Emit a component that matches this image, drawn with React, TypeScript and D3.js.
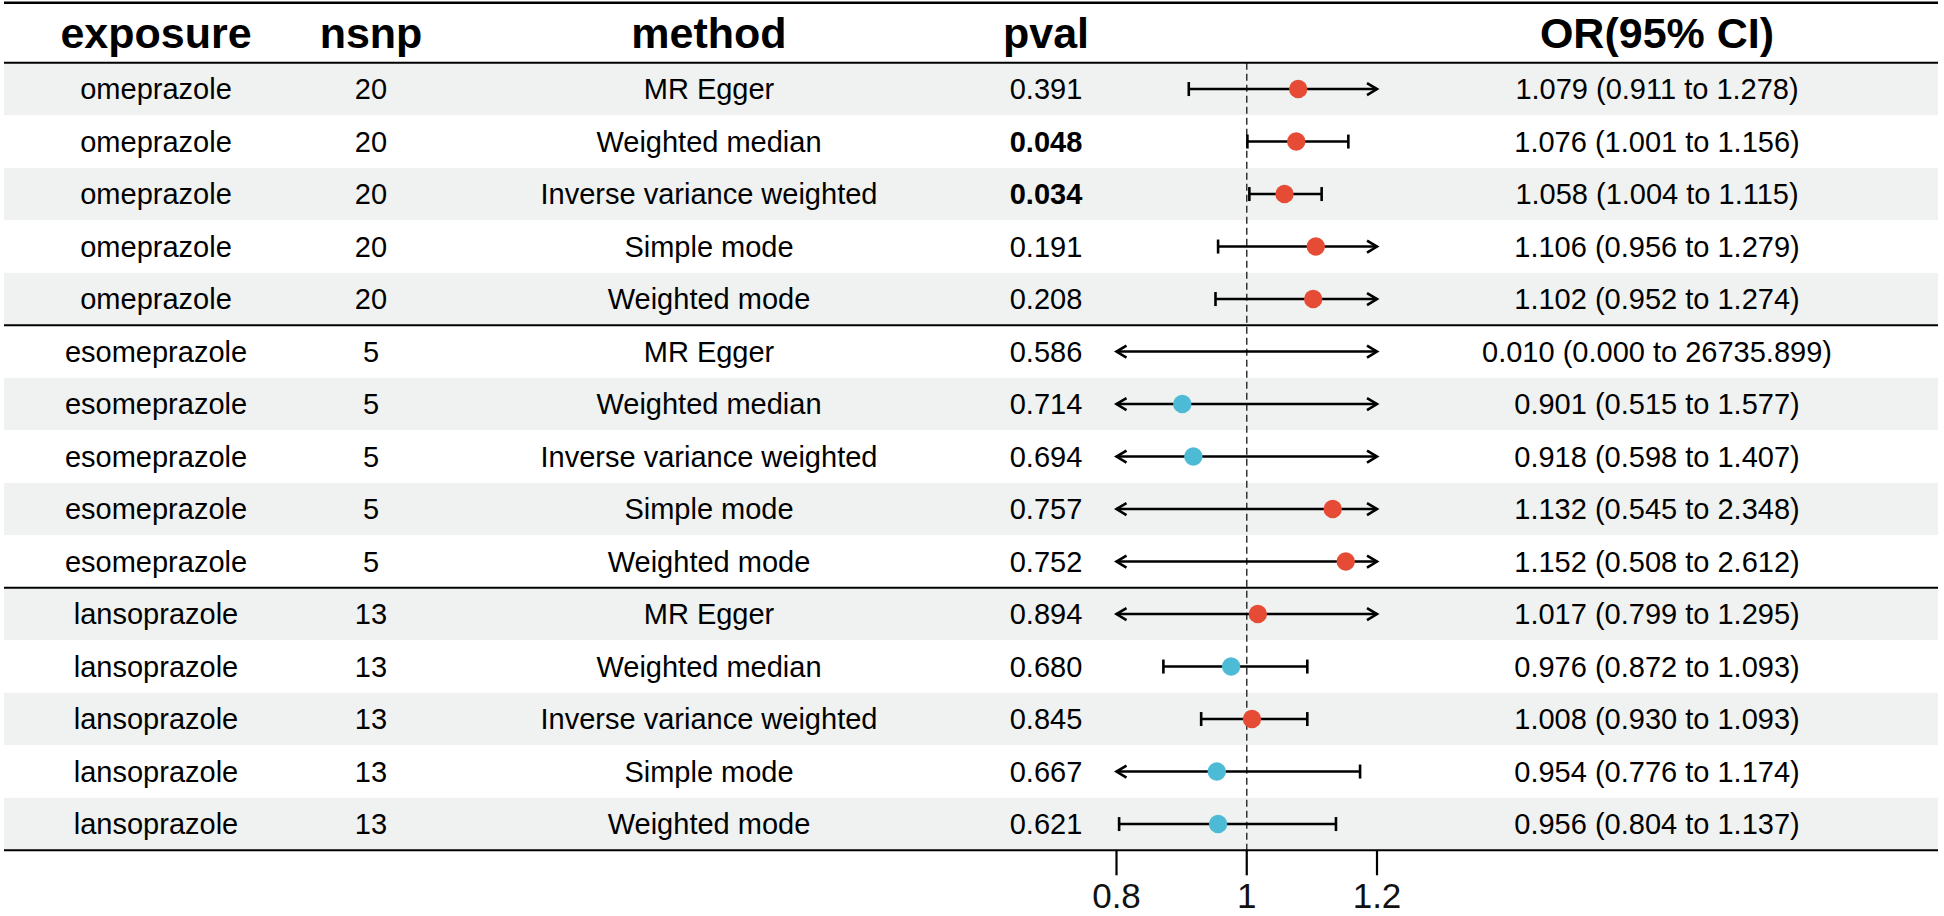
import React from "react";
import * as d3 from "d3";

const headers = ["exposure", "nsnp", "method", "pval", "", "OR(95% CI)"];
const exposures = [
  "omeprazole", "omeprazole", "omeprazole", "omeprazole", "omeprazole",
  "esomeprazole", "esomeprazole", "esomeprazole", "esomeprazole", "esomeprazole",
  "lansoprazole", "lansoprazole", "lansoprazole", "lansoprazole", "lansoprazole",
];
const nsnps = [20, 20, 20, 20, 20, 5, 5, 5, 5, 5, 13, 13, 13, 13, 13];
const methods = [
  "MR Egger", "Weighted median", "Inverse variance weighted", "Simple mode", "Weighted mode",
  "MR Egger", "Weighted median", "Inverse variance weighted", "Simple mode", "Weighted mode",
  "MR Egger", "Weighted median", "Inverse variance weighted", "Simple mode", "Weighted mode",
];
const pvals = [
  "0.391", "0.048", "0.034", "0.191", "0.208",
  "0.586", "0.714", "0.694", "0.757", "0.752",
  "0.894", "0.680", "0.845", "0.667", "0.621",
];
const pBold = [false, true, true, false, false, false, false, false, false, false, false, false, false, false, false];
const ors = [1.079, 1.076, 1.058, 1.106, 1.102, 0.010, 0.901, 0.918, 1.132, 1.152, 1.017, 0.976, 1.008, 0.954, 0.956];
const lowers = [0.911, 1.001, 1.004, 0.956, 0.952, 0.000, 0.515, 0.598, 0.545, 0.508, 0.799, 0.872, 0.930, 0.776, 0.804];
const uppers = [1.278, 1.156, 1.115, 1.279, 1.274, 26735.899, 1.577, 1.407, 2.348, 2.612, 1.295, 1.093, 1.093, 1.174, 1.137];
const axisTicks = [0.8, 1, 1.2];
const groupBreaks = [5, 10];

const W = 1944;
const H = 916;
const FONT = "'Liberation Sans', Arial, Helvetica, sans-serif";
const colX = [156, 371, 709, 1046, 0, 1657];
const RED = "#E64B35";
const BLUE = "#4DBBD5";
const GREY = "#eff2f1";

export default function App() {
  const idx = d3.range(exposures.length);
  const y = d3.scaleBand<number>().domain(idx).range([62.8, 850.3]).padding(0);
  const x = d3.scaleLinear().domain([0.8, 1.2]).range([1116.5, 1377]);
  const [xmin, xmax] = x.range();
  const fmt = (v: number) => v.toFixed(3);
  const tableL = 4;
  const tableR = 1938;
  const bottom = y.range()[1];

  const arrow = (xt: number, yc: number, dir: number) => {
    const len = 10, hh = 6;
    return `M${xt - dir * len},${yc - hh}L${xt},${yc}L${xt - dir * len},${yc + hh}`;
  };

  return (
    <div style={{ position: "fixed", left: 0, top: 0, background: "#fff" }}>
      <svg width={W} height={H} style={{ display: "block", background: "#fff" }} fontFamily={FONT}>
        {/* row bands */}
        {idx.map((i) => (
          <rect key={"bg" + i} x={tableL} y={y(i)} width={tableR - tableL} height={y.bandwidth()}
            fill={i % 2 === 0 ? GREY : "#ffffff"} />
        ))}
        {/* header */}
        {headers.map((h, j) => h ? (
          <text key={"h" + j} x={colX[j]} y={47.5} textAnchor="middle" fontSize={43} fontWeight="bold" fill="#000">{h}</text>
        ) : null)}
        {/* body text */}
        {idx.map((i) => {
          const cy = (y(i) as number) + y.bandwidth() / 2 + 10;
          return (
            <g key={"t" + i} fontSize={29} fill="#000" textAnchor="middle">
              <text x={colX[0]} y={cy}>{exposures[i]}</text>
              <text x={colX[1]} y={cy}>{nsnps[i]}</text>
              <text x={colX[2]} y={cy}>{methods[i]}</text>
              <text x={colX[3]} y={cy} fontWeight={pBold[i] ? "bold" : "normal"}>{pvals[i]}</text>
              <text x={colX[5]} y={cy}>{`${fmt(ors[i])} (${fmt(lowers[i])} to ${fmt(uppers[i])})`}</text>
            </g>
          );
        })}
        {/* reference line */}
        <line x1={x(1)} x2={x(1)} y1={y.range()[0]} y2={bottom} stroke="#333" strokeWidth={1.5} strokeDasharray="7,4" />
        {/* CIs */}
        {idx.map((i) => {
          const cy = (y(i) as number) + y.bandwidth() / 2;
          const lo = lowers[i] < 0.8;
          const hi = uppers[i] > 1.2;
          const x1 = lo ? xmin : x(lowers[i]);
          const x2 = hi ? xmax : x(uppers[i]);
          const inRange = ors[i] >= 0.8 && ors[i] <= 1.2;
          return (
            <g key={"ci" + i} stroke="#000" strokeWidth={2.6} fill="none">
              <line x1={x1} x2={x2} y1={cy} y2={cy} />
              {lo ? <path d={arrow(x1, cy, -1)} strokeWidth={2.6} /> : <line x1={x1} x2={x1} y1={cy - 7} y2={cy + 7} />}
              {hi ? <path d={arrow(x2, cy, 1)} strokeWidth={2.6} /> : <line x1={x2} x2={x2} y1={cy - 7} y2={cy + 7} />}
              {inRange ? <circle cx={x(ors[i])} cy={cy} r={9.2} fill={ors[i] > 1 ? RED : BLUE} stroke="none" /> : null}
            </g>
          );
        })}
        {/* horizontal rules */}
        <line x1={tableL} x2={tableR} y1={2.8} y2={2.8} stroke="#000" strokeWidth={2.6} />
        <line x1={tableL} x2={tableR} y1={62.8} y2={62.8} stroke="#000" strokeWidth={2} />
        {groupBreaks.map((b) => (
          <line key={"gb" + b} x1={tableL} x2={tableR} y1={y(b)} y2={y(b)} stroke="#000" strokeWidth={2} />
        ))}
        <line x1={tableL} x2={tableR} y1={bottom} y2={bottom} stroke="#000" strokeWidth={2} />
        {/* axis */}
        <g>
          {axisTicks.map((t) => (
            <g key={"tk" + t} transform={`translate(${x(t)},${bottom})`}>
              <line y1={0} y2={25} stroke="#000" strokeWidth={2.2} />
              <text y={58} textAnchor="middle" fontSize={35} fill="#111">{String(t)}</text>
            </g>
          ))}
        </g>
      </svg>
    </div>
  );
}
